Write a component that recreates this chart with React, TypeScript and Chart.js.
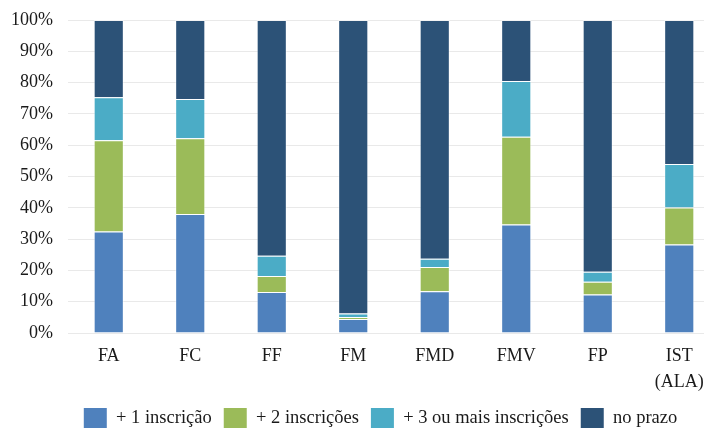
import React, { useEffect, useRef } from "react";
import { Chart, registerables } from "chart.js";

Chart.register(...registerables);

const categories: (string | string[])[] = ["FA", "FC", "FF", "FM", "FMD", "FMV", "FP", ["IST", "(ALA)"]];
const seriesNames = ["+ 1 inscrição", "+ 2 inscrições", "+ 3 ou mais inscrições", "no prazo"];
const umaInscricao = [32.4, 38.0, 13.1, 4.5, 13.3, 34.7, 12.3, 28.3];
const duasInscricoes = [29.2, 24.2, 5.1, 0.6, 7.8, 28.0, 4.1, 11.8];
const tresOuMais = [13.7, 12.6, 6.5, 1.1, 2.6, 17.8, 3.2, 13.9];
const noPrazo = [24.7, 25.2, 75.3, 93.8, 76.3, 19.5, 80.4, 46.0];
const colors = ["#4F81BD", "#9BBB59", "#4BACC6", "#2C5277"];
const yTicks = [0, 10, 20, 30, 40, 50, 60, 70, 80, 90, 100];

const FONT = "'Liberation Serif', 'Times New Roman', serif";

const legendShift = {
  id: "legendShift",
  afterLayout(chart: any) {
    const lg = chart.legend;
    if (lg) {
      lg.left = 41;
      lg.right = chart.chartArea.right;
    }
  },
};

export default function App() {
  const ref = useRef<HTMLCanvasElement | null>(null);

  useEffect(() => {
    if (!ref.current) return;
    const values = [umaInscricao, duasInscricoes, tresOuMais, noPrazo];
    const chart = new Chart(ref.current, {
      type: "bar",
      data: {
        labels: categories,
        datasets: values.map((v, i) => ({
          label: seriesNames[i],
          data: v,
          backgroundColor: colors[i],
          borderColor: "rgba(255,255,255,0.45)",
          borderWidth: 1,
          categoryPercentage: 1,
          barPercentage: 0.37,
        })),
      },
      plugins: [legendShift],
      options: {
        animation: false,
        responsive: false,
        devicePixelRatio: 1,
        layout: { autoPadding: false, padding: { left: 0, right: 41, top: 20, bottom: 0 } },
        plugins: {
          tooltip: { enabled: false },
          legend: {
            position: "bottom",
            labels: {
              boxWidth: 23,
              boxHeight: 20,
              padding: 12,
              color: "#1a1a1a",
              font: { family: FONT, size: 18.5 },
              generateLabels: (c: any) =>
                Chart.defaults.plugins.legend.labels
                  .generateLabels(c)
                  .map((l: any) => ({ ...l, lineWidth: 0, strokeStyle: "rgba(0,0,0,0)" })),
            },
          },
        },
        scales: {
          x: {
            stacked: true,
            grid: { display: false },
            border: { display: false },
            ticks: {
              color: "#1a1a1a",
              font: { family: FONT, size: 18, lineHeight: 1.4 },
              padding: 3,
              maxRotation: 0,
              autoSkip: false,
            },
            afterFit: (s: any) => {
              s.height = 63;
            },
          },
          y: {
            stacked: true,
            min: 0,
            max: 100,
            afterBuildTicks: (s: any) => {
              s.ticks = yTicks.map((v) => ({ value: v }));
            },
            grid: {
              color: "#e9e9e9",
              drawTicks: true,
              tickLength: 12,
              tickColor: "rgba(0,0,0,0)",
              lineWidth: 1,
            },
            border: { display: false },
            ticks: {
              color: "#1a1a1a",
              font: { family: FONT, size: 18 },
              padding: 3,
              callback: (v: any) => v + "%",
            },
            afterFit: (s: any) => {
              s.width = 68;
            },
          },
        },
      },
    });
    return () => chart.destroy();
  }, []);

  return (
    <div
      style={{
        position: "fixed",
        left: 0,
        top: 0,
        width: 704,
        height: 428,
        overflow: "hidden",
        background: "#ffffff",
      }}
    >
      <canvas ref={ref} width={761} height={438} style={{ width: 761, height: 438, display: "block" }} />
    </div>
  );
}
